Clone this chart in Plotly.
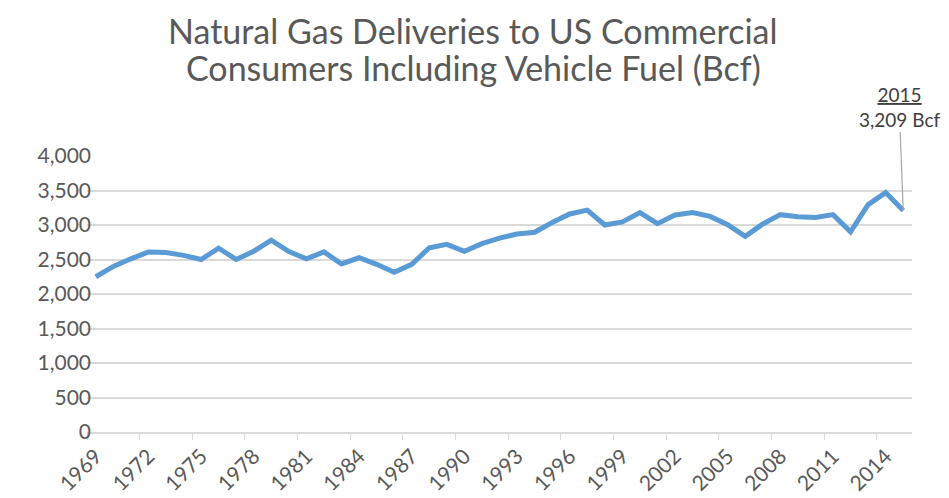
import plotly.graph_objects as go

years = list(range(1969, 2016))
deliveries_bcf = [
    2250, 2400, 2510, 2610, 2600, 2560, 2500, 2665, 2500, 2620,
    2780, 2615, 2510, 2610, 2435, 2525, 2430, 2315, 2430, 2670,
    2720, 2620, 2730, 2810, 2870, 2895, 3035, 3160, 3215, 3000,
    3045, 3180, 3020, 3145, 3180, 3125, 3005, 2835, 3015, 3150,
    3120, 3110, 3150, 2900, 3295, 3470, 3209,
]
label_years = list(range(1969, 2016, 3))
y_ticks = [0, 500, 1000, 1500, 2000, 2500, 3000, 3500, 4000]
title_lines = ["Natural Gas Deliveries to US Commercial", "Consumers Including Vehicle Fuel (Bcf)"]
callout_year = 2015
callout_value = 3209

FONT = "Lato"
GREY = "#595959"

# the page body adds an 8px margin, so the figure is drawn 8px smaller
W, H = 941, 490
ML, MR, MT, MB = 79, 37, 148, 66
plot_w = W - ML - MR
plot_h = H - MT - MB

fig = go.Figure()
fig.add_trace(go.Scatter(
    x=years, y=deliveries_bcf, mode="lines",
    line=dict(color="#5B9BD5", width=5),
    hoverinfo="x+y", showlegend=False,
))

fig.add_annotation(
    x=callout_year, y=callout_value, xref="x", yref="y",
    text=f"<u>{callout_year}</u><br>{callout_value:,} Bcf",
    showarrow=True, arrowhead=0, arrowwidth=1.2, arrowcolor="#a6a6a6",
    ax=-4, ay=-104, font=dict(family=FONT, size=19, color="#404040"),
    align="center",
)

# title, one annotation per line
title_x = (465 - ML) / plot_w
fig.add_annotation(
    x=title_x, y=(MT + plot_h) / plot_h, xref="paper", yref="paper",
    showarrow=False, text=title_lines[0], align="center",
    font=dict(family=FONT, size=34, color=GREY),
    yanchor="top", xanchor="center",
)
fig.add_annotation(
    x=title_x, y=(MT + plot_h - 60) / plot_h, xref="paper", yref="paper",
    showarrow=False, text=title_lines[1], align="center",
    font=dict(family=FONT, size=34, color=GREY),
    yanchor="middle", xanchor="center",
)

fig.update_layout(
    width=W, height=H,
    paper_bgcolor="white", plot_bgcolor="white",
    margin=dict(l=ML, r=MR, t=MT, b=MB),
    font=dict(family=FONT, color=GREY),
    xaxis=dict(
        range=[1968.5, 2015.5], tickmode="array", tickvals=label_years,
        ticktext=[str(y) for y in label_years], tickangle=-45,
        ticks="", showgrid=False, zeroline=False, automargin=False,
        showline=True, linecolor="#d9d9d9", linewidth=1.5,
        ticklabelstandoff=2,
        tickfont=dict(family=FONT, size=21, color=GREY),
        minor=dict(tick0=1968.5, dtick=3, ticks="outside", ticklen=6,
                   tickcolor="#d9d9d9", tickwidth=1.2, showgrid=False),
    ),
    yaxis=dict(
        range=[0, 4000], tickmode="array", tickvals=y_ticks, tickformat=",",
        showgrid=True, gridcolor="#d9d9d9", gridwidth=1.5, automargin=False,
        zeroline=False, showline=False, ticks="", ticklabelstandoff=-5,
        tickfont=dict(family=FONT, size=21, color=GREY),
    ),
)

fig.write_html("out.html")
